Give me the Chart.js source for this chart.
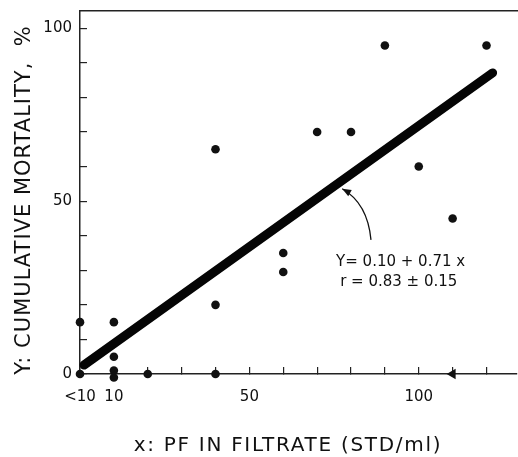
<!DOCTYPE html>
<html>
<head>
<meta charset="utf-8">
<script src="https://cdn.jsdelivr.net/npm/chart.js@4.4.1/dist/chart.umd.min.js"></script>
<style>
    html, body { margin: 0; padding: 0; background: #fff; overflow: hidden; }
    /* el gráfico original está recortado por la derecha */
    #wrap { width: 523px; height: 457px; position: relative; }
</style>
</head>
<body>
<div id="wrap"><canvas id="chartMortalidad"></canvas></div>
<script>
// Datos
const pfFiltrado = [0, 0, 10, 10, 10, 10, 20, 40, 40, 40, 60, 60, 70, 80, 90, 100, 110, 120];
const mortalidad = [15, 0, 15, 5, 1, -1, 0, 0, 20, 65, 35, 29.5, 70, 70, 95, 60, 45, 95];

// Punto marcado con flecha sobre el eje
const flechaX = [110];
const flechaY = [0];

// Recta de regresión (extremos)
const ajusteX = [1.2, 121.8];
const ajusteY = [2.6, 87.1];

// Etiquetas de ejes
const xTickValores = [0, 10, 50, 100];
const xTickTextos = ['<10', '10', '50', '100'];
const yTickValores = [0, 50, 100];
const yTickTextos = ['0', '50', '100'];

const tituloX = 'x: PF IN FILTRATE (STD/ml)';
const tituloY = 'Y: CUMULATIVE MORTALITY,  %';
const ecuacion = ['Y= 0.10 + 0.71 x', 'r = 0.83 ± 0.15'];

const NEGRO = '#111';
const EJE = '#222';
const FUENTE = '"DejaVu Sans", sans-serif';

Chart.defaults.font.family = FUENTE;
Chart.defaults.color = NEGRO;

// Plugin para títulos y la anotación con flecha
const anotaciones = {
    id: 'anotaciones',
    afterDraw(chart) {
        const ctx = chart.ctx;
        const sx = chart.scales.x;
        const sy = chart.scales.y;
        const px = v => sx.getPixelForValue(v);
        const py = v => sy.getPixelForValue(v);

        ctx.save();
        ctx.fillStyle = NEGRO;
        ctx.strokeStyle = NEGRO;
        ctx.textBaseline = 'middle';

        // título eje Y
        ctx.save();
        ctx.font = '21px ' + FUENTE;
        ctx.letterSpacing = '1px';
        ctx.textAlign = 'center';
        ctx.translate(25, 200);
        ctx.rotate(-Math.PI / 2);
        ctx.fillText(tituloY, 0, 0);
        ctx.restore();

        // título eje X
        ctx.save();
        ctx.font = '20px ' + FUENTE;
        ctx.letterSpacing = '1.7px';
        ctx.textAlign = 'center';
        ctx.fillText(tituloX, 288, 446);
        ctx.restore();

        // ecuación
        ctx.font = '15px ' + FUENTE;
        ctx.textAlign = 'left';
        ctx.fillText(ecuacion[0], px(75.6), py(32.4));
        ctx.fillText(ecuacion[1], px(76.8), py(26.6));

        // flecha curva hacia la recta
        const p0 = { x: px(85.9), y: py(38.8) };
        const c = { x: px(84.9), y: py(49.4) };
        const p2 = { x: px(77.4), y: py(53.6) };
        ctx.lineWidth = 1.3;
        ctx.beginPath();
        ctx.moveTo(p0.x, p0.y);
        ctx.quadraticCurveTo(c.x, c.y, p2.x, p2.y);
        ctx.stroke();

        const ang = Math.atan2(p2.y - c.y, p2.x - c.x);
        const largo = 9, ancho = 3.5;
        ctx.beginPath();
        ctx.moveTo(p2.x, p2.y);
        ctx.lineTo(p2.x - largo * Math.cos(ang) + ancho * Math.sin(ang),
                   p2.y - largo * Math.sin(ang) - ancho * Math.cos(ang));
        ctx.lineTo(p2.x - largo * Math.cos(ang) - ancho * Math.sin(ang),
                   p2.y - largo * Math.sin(ang) + ancho * Math.cos(ang));
        ctx.closePath();
        ctx.fill();

        ctx.restore();
    }
};

const ctx = document.getElementById('chartMortalidad');

window.chartMortalidadInstance = new Chart(ctx, {
    type: 'scatter',
    data: {
        datasets: [{
            label: 'Mortalidad',
            data: pfFiltrado.map((x, i) => ({ x: x, y: mortalidad[i] })),
            backgroundColor: NEGRO,
            borderColor: NEGRO,
            pointRadius: 4.3,
            borderWidth: 0,
            clip: false
        }, {
            label: 'Flecha',
            data: flechaX.map((x, i) => ({ x: x, y: flechaY[i] })),
            pointStyle: 'triangle',
            rotation: -90,
            pointRadius: 6,
            backgroundColor: NEGRO,
            borderColor: NEGRO,
            borderWidth: 0,
            clip: false
        }, {
            type: 'line',
            label: 'Ajuste',
            data: ajusteX.map((x, i) => ({ x: x, y: ajusteY[i] })),
            borderColor: '#050505',
            borderWidth: 9,
            borderCapStyle: 'round',
            pointRadius: 0,
            fill: false,
            clip: false
        }]
    },
    options: {
        responsive: true,
        maintainAspectRatio: false,
        animation: false,
        layout: { padding: 0 },
        plugins: {
            legend: { display: false },
            tooltip: { enabled: false }
        },
        scales: {
            x: {
                type: 'linear',
                position: 'bottom',
                min: 0,
                max: 129,
                afterFit: s => { s.height = 83; s.paddingLeft = 0; s.paddingRight = 0; },
                border: { display: true, color: EJE, width: 1.5 },
                grid: { drawOnChartArea: false, drawTicks: true, tickLength: -7, color: EJE, lineWidth: 1.2 },
                ticks: {
                    stepSize: 10,
                    includeBounds: false,
                    autoSkip: false,
                    maxRotation: 0,
                    padding: 21,
                    font: { size: 15 },
                    callback: v => {
                        const i = xTickValores.indexOf(v);
                        return i >= 0 ? xTickTextos[i] : '';
                    }
                }
            },
            xTop: {
                type: 'linear',
                position: 'top',
                afterFit: s => { s.height = 11; s.paddingLeft = 0; s.paddingRight = 0; },
                border: { display: true, color: EJE, width: 1.5 },
                grid: { display: false, drawTicks: false },
                ticks: { display: false }
            },
            y: {
                type: 'linear',
                position: 'left',
                min: 0,
                max: 105,
                afterFit: s => { s.width = 80; s.paddingTop = 0; s.paddingBottom = 0; },
                border: { display: true, color: EJE, width: 1.5 },
                grid: { drawOnChartArea: false, drawTicks: true, tickLength: -7, color: EJE, lineWidth: 1.2 },
                ticks: {
                    stepSize: 10,
                    includeBounds: false,
                    autoSkip: false,
                    padding: 15,
                    font: { size: 15 },
                    callback: v => {
                        const i = yTickValores.indexOf(v);
                        return i >= 0 ? yTickTextos[i] : '';
                    }
                }
            }
        }
    },
    plugins: [anotaciones]
});

console.log('Gráfico creado');
</script>
</body>
</html>
